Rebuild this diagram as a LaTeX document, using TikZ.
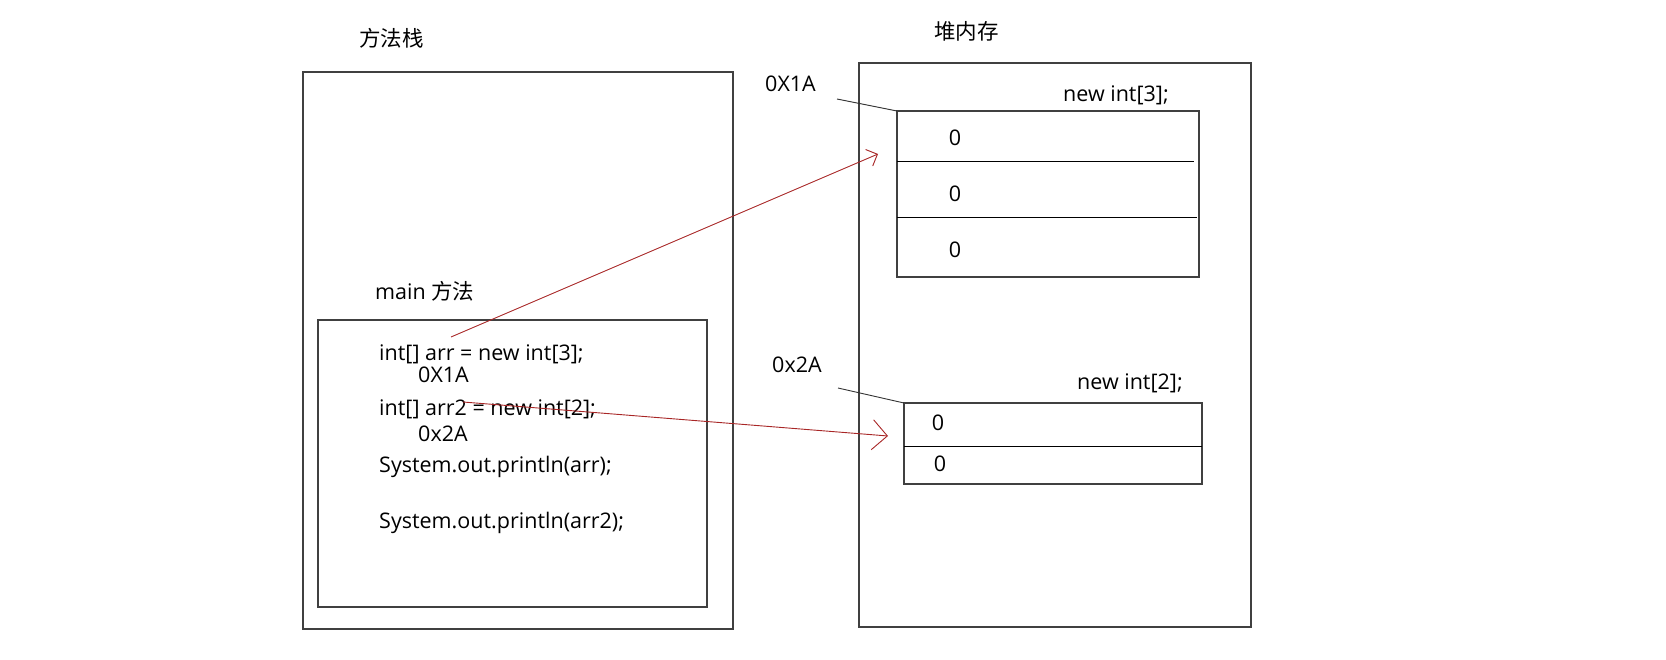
\documentclass[tikz,border=0pt]{standalone}
\usepackage{fontspec}
\setmainfont{Open Sans}
\newfontfamily\cjk{Noto Sans CJK SC}
\usetikzlibrary{arrows.meta}
\tikzset{
  box/.style={draw=black!75, line width=1.2pt, anchor=north west, inner sep=0pt, outer sep=0pt},
  lbl/.style={inner sep=0pt, anchor=base west, font=\fontsize{21.5}{26}\selectfont},
  cjklbl/.style={inner sep=0pt, anchor=west, font=\fontsize{21.5}{26}\selectfont\cjk},
  zero/.style={inner sep=0pt, anchor=base, font=\fontsize{21.5}{26}\selectfont},
  divider/.style={draw=black, line width=1pt},
  ptr/.style={draw=black!80, line width=0.9pt},
  ref/.style={draw=red!60!black!85, line width=0.9pt},
}
\begin{document}
\begin{tikzpicture}[x=1pt,y=-1pt]
\useasboundingbox (0,0) rectangle (1666,660);
% stack
\node[cjklbl] (stacklbl) at (359,38) {方法栈};
\node[box, minimum width=430pt, minimum height=557pt] (stack) at (303,72) {};
\node[lbl] (mainlbl) at (375,300) {main {\cjk 方法}};
\node[box, minimum width=389pt, minimum height=287pt] (main) at (318,320) {};
\node[lbl] (l1) at (379,360) {int[] arr = new int[3];};
\node[lbl] (l2) at (418,382) {0X1A};
\node[lbl] (l3) at (379,415) {int[] arr2 = new int[2];};
\node[lbl] (l4) at (418,441) {0x2A};
\node[lbl] (l5) at (379,472) {System.out.println(arr);};
\node[lbl] (l6) at (379,528) {System.out.println(arr2);};
% heap
\node[cjklbl] (heaplbl) at (934,31) {堆内存};
\node[box, minimum width=392pt, minimum height=564pt] (heap) at (859,63) {};
\node[lbl] (addr1) at (765,92) {0X1A};
\node[lbl] (new3) at (1063,102) {new int[3];};
\node[box, minimum width=302pt, minimum height=166pt] (arr3) at (897,111) {};
\draw[divider] (arr3.north west |- 0,162) -- (1194,162);
\draw[divider] (arr3.north west |- 0,218) -- (1197,218);
\node[zero] (z1) at (955,146) {0};
\node[zero] (z2) at (955,202) {0};
\node[zero] (z3) at (955,258) {0};
\node[lbl] (addr2) at (772,373) {0x2A};
\node[lbl] (new2) at (1077,389) {new int[2];};
\node[box, minimum width=298pt, minimum height=81pt] (arr2) at (904,403) {};
\draw[divider] (arr2.north west |- 0,446) -- (arr2.north east |- 0,446);
\node[zero] (z4) at (938,430) {0};
\node[zero] (z5) at (940,471) {0};
% pointers
\coordinate (p1) at (837,99);
\coordinate (p2) at (838,388);
\draw[ptr] (p1) -- (arr3.north west);
\draw[ptr] (p2) -- (arr2.north west);
% references
\coordinate (s1) at (451,337);
\coordinate (t1) at (878,154);
\coordinate (s2) at (463,402);
\coordinate (t2) at (888,436);
\draw[ref, -{Straight Barb[length=9pt,width=18pt]}] (s1) -- (t1);
\draw[ref, -{Straight Barb[length=15pt,width=30pt]}] (s2) -- (t2);
\end{tikzpicture}
\end{document}
